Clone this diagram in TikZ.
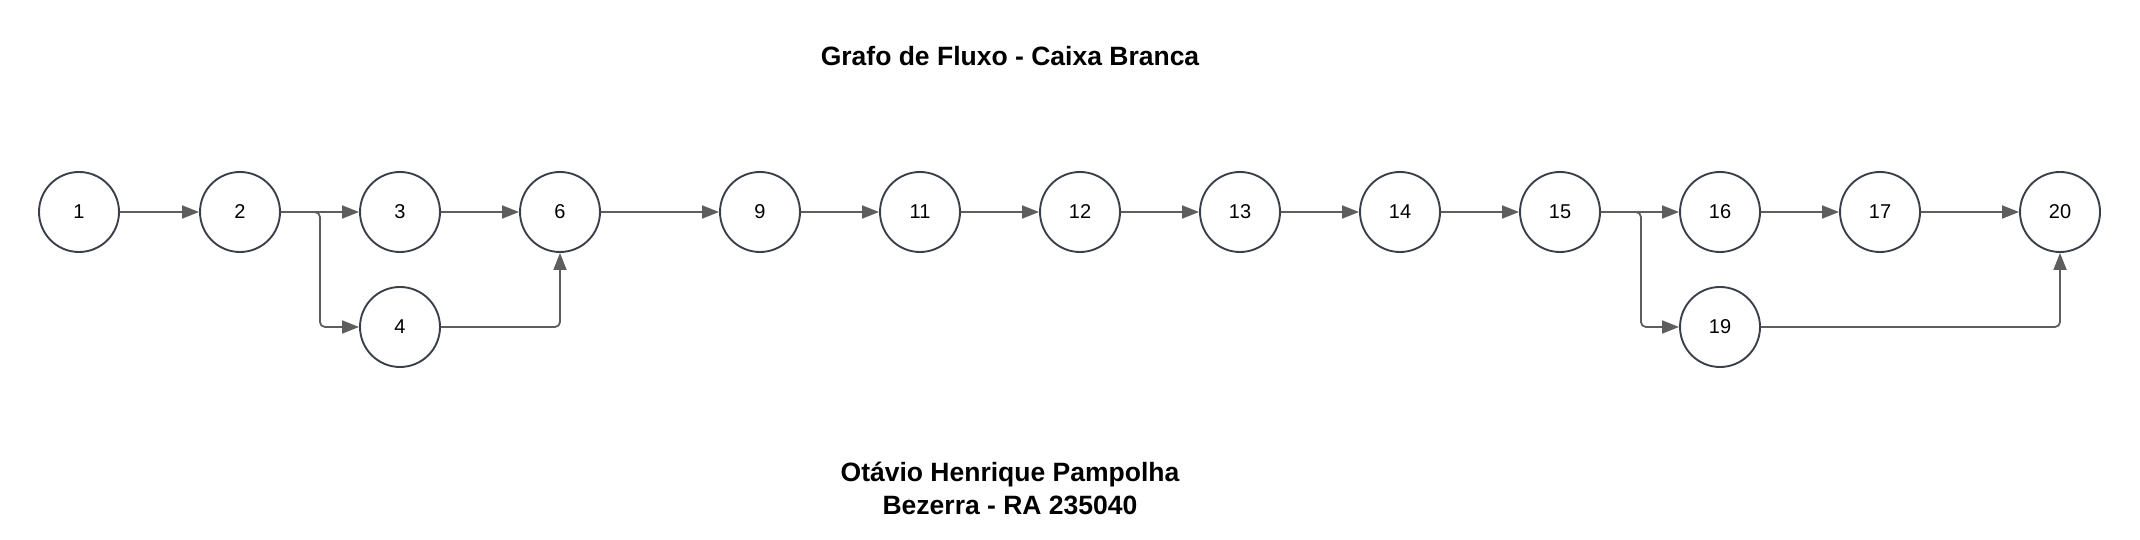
\documentclass[tikz,border=0pt]{standalone}
\usepackage{fontspec}
\setmainfont{Liberation Sans}
\usetikzlibrary{arrows.meta}
\definecolor{edgegray}{HTML}{5E5E5E}
\definecolor{ringgray}{HTML}{3A3F4A}

\begin{document}
\begin{tikzpicture}[x=1pt,y=1pt,->,>={Triangle[length=17pt,width=13pt]},line width=1.8pt,draw=edgegray,rounded corners=5pt]
\tikzstyle{vertex}=[circle,draw=ringgray,line width=1.9pt,minimum size=80pt,inner sep=0pt,font=\fontsize{20}{20}\selectfont]
\tikzstyle{caption}=[align=center,font=\bfseries\fontsize{26.5}{33}\selectfont]
\useasboundingbox (0,0) rectangle (2140,540);
% top row
\node[vertex] (n1) at (79,328) {1};
\node[vertex] (n2) at (240,328) {2};
\node[vertex] (n3) at (400,328) {3};
\node[vertex] (n6) at (560,328) {6};
\node[vertex] (n9) at (760,328) {9};
\node[vertex] (n11) at (920,328) {11};
\node[vertex] (n12) at (1080,328) {12};
\node[vertex] (n13) at (1240,328) {13};
\node[vertex] (n14) at (1400,328) {14};
\node[vertex] (n15) at (1560,328) {15};
\node[vertex] (n16) at (1720,328) {16};
\node[vertex] (n17) at (1880,328) {17};
\node[vertex] (n20) at (2060,328) {20};
% bottom row
\node[vertex] (n4) at (400,213) {4};
\node[vertex] (n19) at (1720,213) {19};
% texts
\node[caption] (title) at (1010,484) {Grafo de Fluxo - Caixa Branca};
\node[caption] (author) at (1010,52) {Otávio Henrique Pampolha\\Bezerra - RA 235040};
\path (n1) edge (n2)
      (n2) edge (n3)
      (n3) edge (n6)
      (n6) edge (n9)
      (n9) edge (n11)
      (n11) edge (n12)
      (n12) edge (n13)
      (n13) edge (n14)
      (n14) edge (n15)
      (n15) edge (n16)
      (n16) edge (n17)
      (n17) edge (n20);
\draw (n2.east) -- ++(39,0) |- (n4);
\draw (n4) -| (n6);
\draw (n15.east) -- ++(40,0) |- (n19);
\draw (n19) -| (n20);
\end{tikzpicture}
\end{document}
